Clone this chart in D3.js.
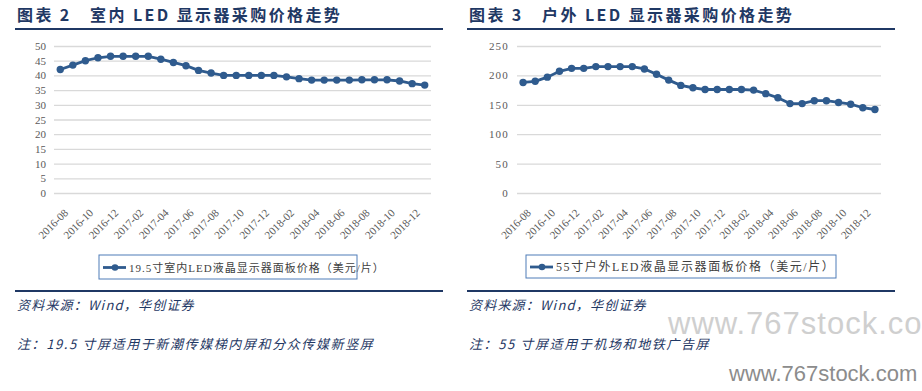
<!DOCTYPE html>
<html>
<head>
<meta charset="utf-8">
<script src="https://cdn.jsdelivr.net/npm/d3@7"></script>
<style>
  body { margin: 0; background: #fff; }
</style>
</head>
<body>
<div id="chart-area"></div>
<script>
// data
const months = ["2016-08","2016-09","2016-10","2016-11","2016-12",
                "2017-01","2017-02","2017-03","2017-04","2017-05","2017-06",
                "2017-07","2017-08","2017-09","2017-10","2017-11","2017-12",
                "2018-01","2018-02","2018-03","2018-04","2018-05","2018-06",
                "2018-07","2018-08","2018-09","2018-10","2018-11","2018-12",
                "2019-01"];
const tickMonths = ["2016-08","2016-10","2016-12","2017-02","2017-04","2017-06",
                    "2017-08","2017-10","2017-12","2018-02","2018-04","2018-06",
                    "2018-08","2018-10","2018-12"];
// 19.5 inch indoor panel, USD / piece
const indoorPrice = [42, 43.5, 45, 46, 46.5, 46.5, 46.5, 46.5, 45.5, 44.4,
                     43.3, 41.7, 40.8, 40, 40, 40, 40, 40, 39.5, 38.9,
                     38.4, 38.4, 38.4, 38.4, 38.5, 38.5, 38.5, 38.1, 37.2, 36.7];
// 55 inch outdoor panel, USD / piece
const outdoorPrice = [188, 190, 197, 207, 212, 212, 215, 215, 215, 215,
                      211, 202, 192, 183, 179, 176, 176, 176, 176, 175,
                      169, 162, 152, 152, 157, 157, 154, 151, 145, 142];
const indoorTicks = [0, 5, 10, 15, 20, 25, 30, 35, 40, 45, 50];
const outdoorTicks = [0, 50, 100, 150, 200, 250];

const titles = ["图表 2　室内 LED 显示器采购价格走势", "图表 3　户外 LED 显示器采购价格走势"];
const legends = ["19.5寸室内LED液晶显示器面板价格（美元/片）", "55寸户外LED液晶显示器面板价格（美元/片）"];
const sourceText = "资料来源：Wind，华创证券";
const notes = ["注：19.5 寸屏适用于新潮传媒梯内屏和分众传媒新竖屏", "注：55 寸屏适用于机场和地铁广告屏"];

const NAVY = "#1f3864", LINE = "#2f5b8e", GRID = "#d9d9d9", AXIS_TXT = "#595959";
const CJK = "'Noto Sans CJK SC', sans-serif";
const SERIF = "'Liberation Serif', 'Times New Roman', serif";

let svg = d3.select("#chart-area").append("svg")
            .attr("width", 922)
            .attr("height", 391);

// panel layouts
const panels = [
  { left: 15, right: 443, plotL: 54, plotR: 431, top: 46, bottom: 193,
    values: indoorPrice, ticks: indoorTicks, yMax: 50,
    title: titles[0], legend: legends[0], note: notes[0],
    legendBox: [99, 255, 258, 24], yFont: 11, ySpacing: 0, legendFont: 11, legendSpacing: 1 },
  { left: 467, right: 895, plotL: 517, plotR: 881, top: 46, bottom: 193,
    values: outdoorPrice, ticks: outdoorTicks, yMax: 250,
    title: titles[1], legend: legends[1], note: notes[1],
    legendBox: [526, 255, 310, 23], yFont: 11, ySpacing: 1.2, legendFont: 12, legendSpacing: 1.6 }
];

panels.forEach(function(p){

	let g = svg.append("g");

	// title + rules
	g.append("text")
	 .attr("x", p.left + 2)
	 .attr("y", 21)
	 .attr("font-family", CJK)
	 .attr("font-weight", "bold")
	 .attr("font-size", "16px")
	 .attr("letter-spacing", "2.4px")
	 .attr("fill", NAVY)
	 .text(p.title);

	g.append("line")
	 .attr("x1", p.left).attr("x2", p.right)
	 .attr("y1", 29).attr("y2", 29)
	 .attr("stroke", NAVY).attr("stroke-width", 2);

	g.append("line")
	 .attr("x1", p.left).attr("x2", p.right)
	 .attr("y1", 291).attr("y2", 291)
	 .attr("stroke", NAVY).attr("stroke-width", 2);

	// scales
	var x = d3.scaleBand().domain(months).range([p.plotL, p.plotR]);
	var y = d3.scaleLinear().domain([0, p.yMax]).range([p.bottom, p.top]);

	// y axis with gridlines
	var yAxis = d3.axisLeft(y).tickValues(p.ticks).tickSize(-(p.plotR - p.plotL)).tickPadding(8);
	let yg = g.append("g")
	          .attr("transform", `translate(${p.plotL},0)`)
	          .call(yAxis);
	yg.select(".domain").remove();
	yg.selectAll(".tick line").attr("stroke", GRID).attr("stroke-width", 1.3);
	yg.selectAll(".tick text")
	  .attr("font-family", SERIF)
	  .attr("font-size", p.yFont + "px")
	  .attr("letter-spacing", p.ySpacing + "px")
	  .attr("fill", AXIS_TXT);

	// x axis, rotated labels
	var xAxis = d3.axisBottom(x).tickValues(tickMonths).tickSize(0);
	let xg = g.append("g")
	          .attr("transform", `translate(0,${p.bottom})`)
	          .call(xAxis);
	xg.select(".domain").remove();
	xg.selectAll(".tick text")
	  .attr("x", 0).attr("y", 0)
	  .attr("dy", "0.71em")
	  .attr("text-anchor", "end")
	  .attr("transform", "translate(3,15) rotate(-45)")
	  .attr("font-family", SERIF)
	  .attr("font-size", "11px")
	  .attr("fill", AXIS_TXT);

	// series
	var pts = months.map(function(m, i){ return [x(m) + x.bandwidth()/2, y(p.values[i])]; });

	g.append("path")
	 .attr("d", d3.line()(pts))
	 .attr("fill", "none")
	 .attr("stroke", LINE)
	 .attr("stroke-width", 2.8);

	g.selectAll("circle.pt")
	 .data(pts)
	 .enter()
	 .append("circle")
	 .attr("class", "pt")
	 .attr("cx", function(d){ return d[0]; })
	 .attr("cy", function(d){ return d[1]; })
	 .attr("r", 3.7)
	 .attr("fill", LINE);

	// legend
	var b = p.legendBox;
	g.append("rect")
	 .attr("x", b[0]).attr("y", b[1])
	 .attr("width", b[2]).attr("height", b[3])
	 .attr("fill", "none")
	 .attr("stroke", "#4f7cb8")
	 .attr("stroke-width", 1);
	var ly = b[1] + b[3]/2 + 0.5;
	g.append("line")
	 .attr("x1", b[0] + 4).attr("x2", b[0] + 27)
	 .attr("y1", ly).attr("y2", ly)
	 .attr("stroke", LINE).attr("stroke-width", 2.8);
	g.append("circle")
	 .attr("cx", b[0] + 16).attr("cy", ly).attr("r", 3.3)
	 .attr("fill", LINE);
	g.append("text")
	 .attr("x", b[0] + 30)
	 .attr("y", ly + 4)
	 .attr("font-family", SERIF + "," + CJK)
	 .attr("font-size", p.legendFont + "px")
	 .attr("letter-spacing", p.legendSpacing + "px")
	 .attr("fill", "#404040")
	 .text(p.legend);

	// source and note
	g.append("text")
	 .attr("x", p.left + 2)
	 .attr("y", 310)
	 .attr("font-family", CJK)
	 .attr("font-style", "italic")
	 .attr("font-size", "13px")
	 .attr("letter-spacing", "1.2px")
	 .attr("fill", NAVY)
	 .text(sourceText);

	g.append("text")
	 .attr("x", p.left + 2)
	 .attr("y", 349)
	 .attr("font-family", CJK)
	 .attr("font-style", "italic")
	 .attr("font-size", "13px")
	 .attr("letter-spacing", "1.6px")
	 .attr("fill", NAVY)
	 .text(p.note);
});

// watermarks
svg.append("text")
   .attr("x", 668).attr("y", 334)
   .attr("font-family", "'Liberation Sans', Arial, sans-serif")
   .attr("font-size", "31px")
   .attr("letter-spacing", "1px")
   .attr("fill", "#cfcfcf")
   .text("www.767stock.co");
svg.append("text")
   .attr("x", 729).attr("y", 381)
   .attr("font-family", "'Liberation Sans', Arial, sans-serif")
   .attr("font-size", "22px")
   .attr("fill", "#8c8c8c")
   .text("www.767stock.com");
</script>
</body>
</html>
